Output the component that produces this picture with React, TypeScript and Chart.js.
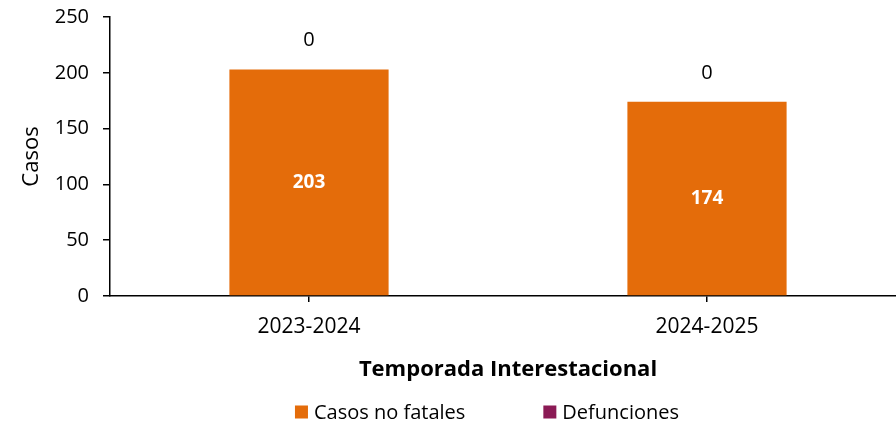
import React, { useEffect, useRef } from "react";
import { Chart, registerables } from "chart.js";

Chart.register(...registerables);

const categories = ["2023-2024", "2024-2025"];
const casosNoFatales = [203, 174];
const defunciones = [0, 0];
const seriesNames = ["Casos no fatales", "Defunciones"];
const seriesColors = ["#E46C0A", "#8B1A55"];
const yTicks = [0, 50, 100, 150, 200, 250];

const FONT = "'Open Sans', sans-serif";

const labelPlugin = {
  id: "barLabels",
  afterDatasetsDraw(chart: any) {
    const ctx = chart.ctx;
    ctx.save();
    ctx.textAlign = "center";
    ctx.textBaseline = "middle";
    const m0 = chart.getDatasetMeta(0);
    m0.data.forEach((bar: any, i: number) => {
      const v = chart.data.datasets[0].data[i];
      ctx.fillStyle = "#ffffff";
      ctx.font = `bold 19px ${FONT}`;
      ctx.fillText(String(v), bar.x, (bar.y + bar.base) / 2);
    });
    const m1 = chart.getDatasetMeta(1);
    m1.data.forEach((bar: any, i: number) => {
      const v = chart.data.datasets[1].data[i];
      ctx.fillStyle = "#000000";
      ctx.font = `20px ${FONT}`;
      ctx.fillText(String(v), bar.x, bar.y - 29);
    });
    ctx.restore();
  },
};

const legendPlugin = {
  id: "customLegend",
  afterDraw(chart: any) {
    const ctx = chart.ctx;
    ctx.save();
    ctx.font = `20px ${FONT}`;
    ctx.textBaseline = "middle";
    ctx.textAlign = "left";
    const y = 412;
    const box = 13;
    const gapBoxText = 6;
    const gapItems = 78;
    const widths = chart.data.datasets.map(
      (d: any) => box + gapBoxText + ctx.measureText(d.label).width
    );
    const total = widths.reduce((a: number, b: number) => a + b, 0) + gapItems * (widths.length - 1);
    let x = 487 - total / 2;
    chart.data.datasets.forEach((d: any, i: number) => {
      ctx.fillStyle = d.backgroundColor;
      ctx.fillRect(x, y - box / 2, box, box);
      ctx.fillStyle = "#000000";
      ctx.fillText(d.label, x + box + gapBoxText, y + 1);
      x += widths[i] + gapItems;
    });
    ctx.restore();
  },
};

export default function App() {
  const ref = useRef<HTMLCanvasElement | null>(null);
  useEffect(() => {
    if (!ref.current) return;
    const chart = new Chart(ref.current, {
      type: "bar",
      data: {
        labels: categories,
        datasets: [
          { label: seriesNames[0], data: casosNoFatales, backgroundColor: seriesColors[0], barPercentage: 0.4, categoryPercentage: 1 },
          { label: seriesNames[1], data: defunciones, backgroundColor: seriesColors[1], barPercentage: 0.4, categoryPercentage: 1 },
        ],
      },
      options: {
        animation: false,
        responsive: false,
        maintainAspectRatio: false,
        layout: { padding: { top: 17, bottom: 30, left: 0, right: 0 } },
        plugins: { legend: { display: false }, tooltip: { enabled: false } },
        scales: {
          x: {
            stacked: true,
            afterFit: (s: any) => { s.height = 97; s.paddingLeft = 0; s.paddingRight = 0; },
            grid: { display: true, drawOnChartArea: false, offset: false, tickLength: 6, color: "#000", lineWidth: 1.5 },
            border: { color: "#000", width: 1.5 },
            ticks: { color: "#000", font: { family: FONT, size: 21 }, padding: 12 },
            title: { display: true, text: "Temporada Interestacional", color: "#000", font: { family: FONT, size: 22, weight: "bold" }, padding: 10 },
          },
          y: {
            stacked: true,
            min: 0,
            max: 250,
            afterFit: (s: any) => { s.width = 110; s.paddingTop = 0; s.paddingBottom = 0; },
            afterBuildTicks: (s: any) => { s.ticks = yTicks.map((v) => ({ value: v })); },
            grid: { display: true, drawOnChartArea: false, tickLength: 7, color: "#000", lineWidth: 1.5 },
            border: { color: "#000", width: 1.5 },
            ticks: { color: "#000", font: { family: FONT, size: 20 }, padding: 14 },
            title: { display: true, text: "Casos", color: "#000", font: { family: FONT, size: 22 }, padding: 19 },
          },
        },
      },
      plugins: [labelPlugin, legendPlugin],
    });
    return () => chart.destroy();
  }, []);
  return (
    <div style={{ position: "fixed", left: 0, top: 0, width: 906, height: 423, overflow: "hidden", background: "#fff" }}>
      <canvas ref={ref} width={906} height={423} style={{ display: "block", width: 906, height: 423 }} />
    </div>
  );
}
